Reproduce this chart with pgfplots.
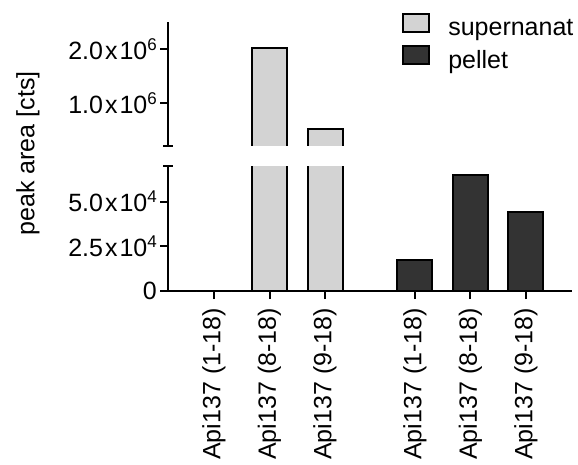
\documentclass[border=0pt]{standalone}
\usepackage{pgfplots}
\pgfplotsset{compat=1.18}
\usepackage{fontspec}
\setmainfont{Liberation Sans}
\definecolor{lightbar}{RGB}{211,211,211}
\definecolor{darkbar}{RGB}{51,51,51}
\newcommand{\sci}[2]{#1\kern2pt x\kern2pt 10\raisebox{9pt}{\fontsize{17}{17}\selectfont #2}}
\begin{document}
\begin{tikzpicture}[font=\fontsize{25}{30}\selectfont]
\useasboundingbox (0,0) rectangle (578pt,464pt);
\pgfplotsset{
  brk/.style={scale only axis, width=404pt, xmin=0.171, xmax=7.45,
    axis line style={line width=2pt, black},
    major tick style={line width=2pt, black}, major tick length=8pt,
    tick align=outside, scaled y ticks=false,
    minor tick num=0},
  sup/.style={ybar, bar width=35pt, bar shift=0pt, draw=black, line width=2pt, fill=lightbar},
  pel/.style={ybar, bar width=35pt, bar shift=0pt, draw=black, line width=2pt, fill=darkbar},
}
% lower segment
\begin{axis}[brk, at={(168pt,173pt)}, anchor=south west, height=125pt,
  ymin=0, ymax=70000,
  axis x line*=bottom, axis y line*=left,
  xtick={1,2,3,4.62,5.62,6.62},
  xticklabels={Api137 (1-18),Api137 (8-18),Api137 (9-18),Api137 (1-18),Api137 (8-18),Api137 (9-18)},
  xticklabel style={rotate=90, anchor=east, inner sep=9pt},
  ytick={0,25000,50000},
  yticklabels={0,\sci{2.5}{4},\sci{5.0}{4}},
  yticklabel style={inner sep=3pt}]
\addplot[sup] coordinates {(1,0) (2,2020000) (3,520000)};
\addplot[pel] coordinates {(4.62,17400) (5.62,65200) (6.62,44400)};
\end{axis}
% upper segment (bars open at the bottom, continuing from the lower segment)
\begin{axis}[brk, at={(168pt,318pt)}, anchor=south west, height=124pt,
  ymin=200000, ymax=2500000,
  hide x axis, axis y line*=left,
  ytick={1000000,2000000},
  yticklabels={\sci{1.0}{6},\sci{2.0}{6}},
  yticklabel style={inner sep=3pt},
  legend style={draw=none, fill=none, at={(rel axis cs:0.579,1.077)}, anchor=north west,
    inner sep=0pt, row sep=0pt, column sep=0pt,
    nodes={inner sep=0pt, text height=18.5pt, text depth=10pt}},
  legend cell align=left]
\addlegendimage{legend image code/.code={\draw[fill=lightbar,draw=black,line width=2pt] (1pt,-0.5pt) rectangle (27pt,17.5pt); \path (46pt,0pt);}}
\addlegendentry{supernanat}
\addlegendimage{legend image code/.code={\draw[fill=darkbar,draw=black,line width=2pt] (1pt,-0.5pt) rectangle (27pt,17.5pt); \path (46pt,0pt);}}
\addlegendentry{pellet}
\addplot[fill=lightbar, draw=black, line width=2pt, forget plot]
  coordinates {(1.6847,0) (1.6847,2020000) (2.3153,2020000) (2.3153,0)};
\addplot[fill=lightbar, draw=black, line width=2pt, forget plot]
  coordinates {(2.6847,0) (2.6847,520000) (3.3153,520000) (3.3153,0)};
\end{axis}
% break caps
\draw[line width=2pt] (163pt,318pt) -- (173pt,318pt);
\draw[line width=2pt] (163pt,298pt) -- (173pt,298pt);
\node[rotate=90, inner sep=0pt] at (28pt,310.5pt) {peak area [cts]};
\end{tikzpicture}
\end{document}
